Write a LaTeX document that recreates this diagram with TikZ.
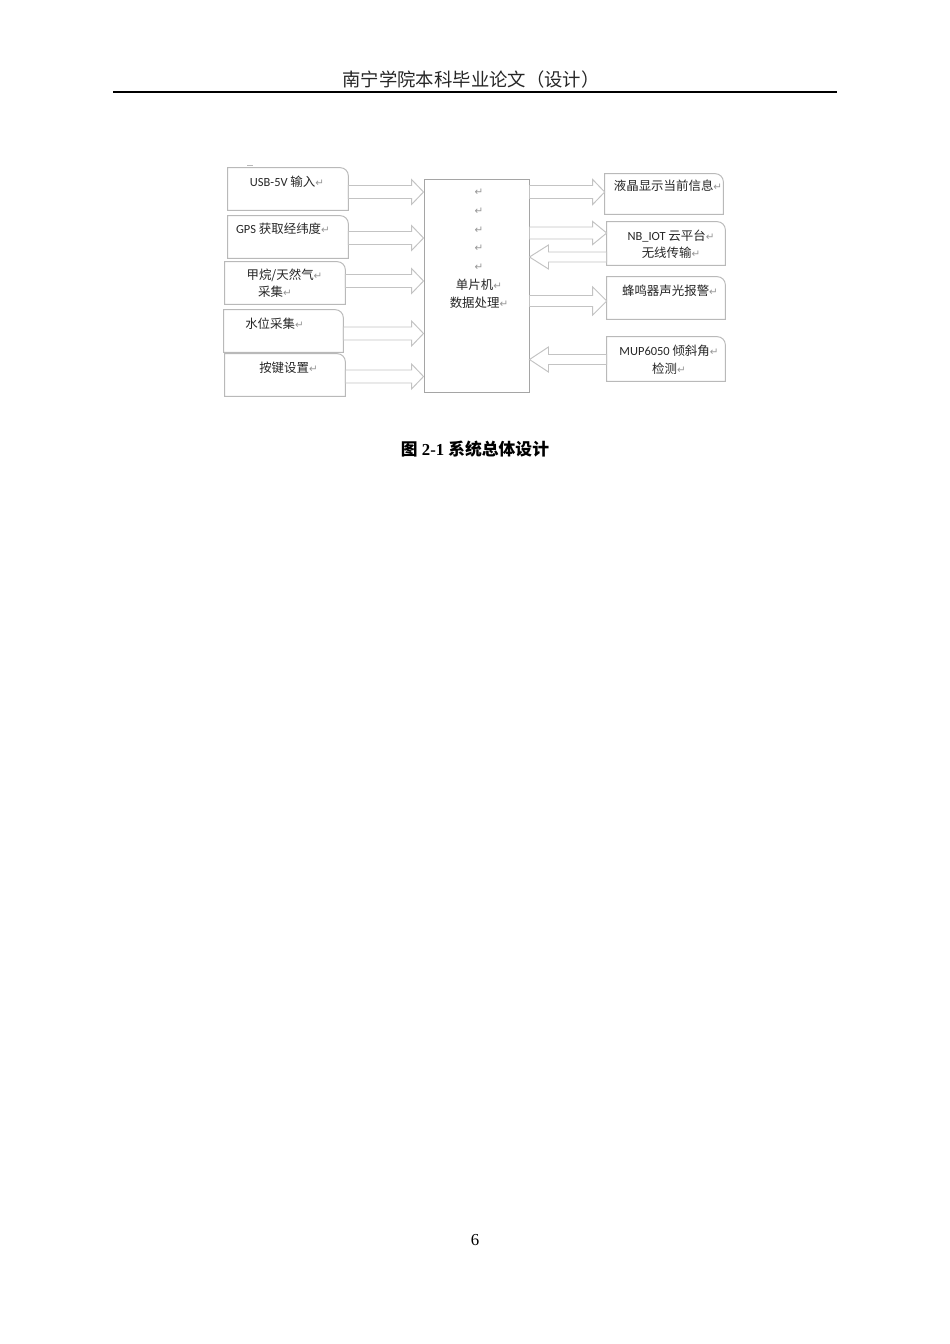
\documentclass[tikz,border=0pt]{standalone}
\usepackage{fontspec}
\setmainfont{Liberation Serif}
\newfontfamily\cjk{Noto Sans CJK SC}
\newfontfamily\lat{Carlito}
\newfontfamily\sym{DejaVu Sans}
\usetikzlibrary{calc}

\newlength\px \setlength\px{0.6266pt}
\definecolor{boxgray}{RGB}{185,185,185}
\definecolor{mcugray}{RGB}{165,165,165}
\definecolor{arrgray}{RGB}{195,195,195}
\definecolor{retgray}{RGB}{150,150,150}

% paragraph mark as Word shows it
\newcommand\ret{{\sym\color{retgray}\fontsize{6.5}{6.5}\selectfont↵}}
% box with one rounded corner
\newcommand\cornerbox[1]{\draw[boxline] (#1.south west) -- (#1.north west) -- ([xshift=-5pt]#1.north east) arc[start angle=90,end angle=0,radius=5pt] -- (#1.south east) -- cycle;}
% hollow block arrow: from, tip, y, shaft half, head half, head length
\newcommand\blockarrow[6]{%
  \draw[blockarrow] ($(#1 |- 0,#3)+(0,-#4)$) -- ($(#2 |- 0,#3)+({-1*(#6)},-#4)$)
    -- ($(#2 |- 0,#3)+({-1*(#6)},-#5)$) -- (#2 |- 0,#3)
    -- ($(#2 |- 0,#3)+({-1*(#6)},#5)$) -- ($(#2 |- 0,#3)+({-1*(#6)},#4)$)
    -- ($(#1 |- 0,#3)+(0,#4)$) -- cycle;}

\begin{document}
\begin{tikzpicture}[x=\px,y=-\px,
    unit/.style={minimum width=120*\px,minimum height=42*\px,inner sep=0pt},
    boxline/.style={draw=boxgray,line width=0.6pt},
    blockarrow/.style={draw=arrgray,fill=white,line width=0.6pt,line join=miter},
    txt/.style={font=\cjk\fontsize{7.8}{11.7}\selectfont,text=black!85,inner sep=0pt,align=center}]
  \useasboundingbox (0,0) rectangle (950,1344);

  % page header
  \node[font=\cjk\fontsize{11.5}{13}\selectfont,text=black!85] (head) at (471,80) {南宁学院本科毕业论文（设计）};
  \draw[line width=1pt] (113,92) -- (837,92);

  % inputs
  \node[unit] (usb)   at (288,189)   {};
  \node[unit] (gps)   at (288,237)   {};
  \node[unit] (ch4)   at (285,283)   {};
  \node[unit,minimum width=119*\px] (water) at (283.5,331) {};
  \node[unit] (key)   at (285,375)   {};
  % outputs
  \node[unit,minimum width=118*\px,minimum height=40*\px] (lcd)    at (664,194)   {};
  \node[unit,minimum width=118*\px,minimum height=43*\px] (nb)     at (666,243.5) {};
  \node[unit,minimum width=118*\px] (buzzer) at (666,298) {};
  \node[unit,minimum width=118*\px,minimum height=44*\px] (mup)    at (666,359)   {};
  \foreach \n in {usb,gps,ch4,water,key,lcd,nb,buzzer,mup} {\cornerbox{\n}}
  \draw[boxline] (247,165) -- (253,165);

  % microcontroller
  \node[draw=mcugray,line width=0.6pt,minimum width=105*\px,minimum height=213*\px,inner sep=0pt] (mcu) at (476.5,285.5) {};

  \node[txt] (usbtxt)   at (287,182)   {{\lat USB-5V} 输入\ret};
  \node[txt] (gpstxt)   at (283,229)   {{\lat GPS} 获取经纬度\ret};
  \node[txt] (ch4txt)   at (284.5,275) {甲烷/天然气\ret};
  \node[txt] (ch4txtb)  at (275,292)   {采集\ret};
  \node[txt] (watertxt) at (274.5,324) {水位采集\ret};
  \node[txt] (keytxt)   at (288.5,368) {按键设置\ret};
  \node[txt] (mcutxt)   at (479,249)   {\ret\\\ret\\\ret\\\ret\\\ret\\单片机\ret\\数据处理\ret};
  \node[txt] (lcdtxt)   at (668,186)   {液晶显示当前信息\ret};
  \node[txt,font=\cjk\fontsize{7.8}{10.7}\selectfont] (nbtxt) at (671,244.5) {{\lat NB\_IOT} 云平台\ret\\无线传输\ret};
  \node[txt] (buzzertxt) at (670,291)  {蜂鸣器声光报警\ret};
  \node[txt,font=\cjk\fontsize{7.8}{11.3}\selectfont] (muptxt) at (669,360) {{\lat MUP6050} 倾斜角\ret\\检测\ret};

  % arrows
  \foreach \n/\y in {usb/192,gps/238,ch4/281,water/333.5,key/376.5}
    {\blockarrow{\n.east}{mcu.west}{\y}{6.5}{12.5}{12}}
  \blockarrow{mcu.east}{lcd.west}{192}{6.5}{12.5}{12}
  \blockarrow{mcu.east}{nb.west}{233}{6}{11.5}{14}
  \blockarrow{nb.west}{mcu.east}{257}{5}{12}{-19}
  \blockarrow{mcu.east}{buzzer.west}{301}{5.5}{14}{14}
  \blockarrow{mup.west}{mcu.east}{359.5}{5}{12.5}{-19}

  % caption and page number
  \node[font=\fontsize{10.5}{12}\selectfont\bfseries] (cap) at (475,449) {{\cjk 图} 2-1 {\cjk 系统总体设计}};
  \node[font=\fontsize{10.5}{12}\selectfont] (page) at (475,1240) {6};
\end{tikzpicture}
\end{document}
